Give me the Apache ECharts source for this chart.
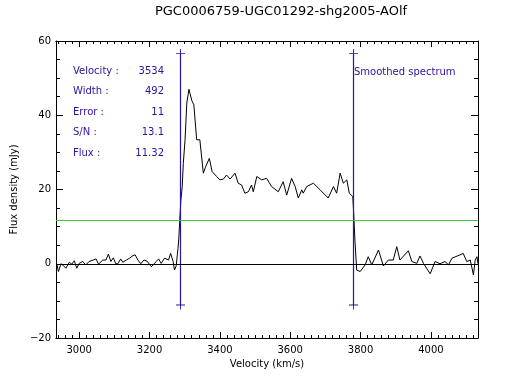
<!DOCTYPE html>
<html>
<head>
<meta charset="utf-8">
<script src="https://cdn.jsdelivr.net/npm/echarts@6/dist/echarts.min.js"></script>
<style>
html,body{margin:0;padding:0;background:#fff;}
#chart{width:509px;height:387px;}
</style>
</head>
<body>
<div id="chart"></div>
<script>
// ---- data ----
var titleText = 'PGC0006759-UGC01292-shg2005-AOlf';
var velocity = [2936,2941,2948,2954,2962,2972,2979,2986,2993,3000,3010,3019,3028,3040,3048,3055,3067,3076,3083,3090,3097,3104,3110,3118,3124,3134,3143,3153,3159,3167,3175,3184,3193,3205,3219,3226,3233,3243,3254,3260,3267,3271,3276,3279,3281,3283,3286,3289,3293,3296,3301,3306,3312,3320,3326,3334,3343,3353,3359,3370,3378,3391,3400,3410,3419,3429,3443,3452,3462,3471,3481,3490,3495,3505,3519,3533,3547,3566,3580,3590,3604,3614,3623,3633,3637,3647,3666,3685,3708,3723,3732,3742,3751,3761,3768,3778,3780,3784,3789,3799,3813,3822,3832,3851,3865,3879,3893,3903,3912,3936,3946,3960,3969,3979,3998,4012,4026,4040,4050,4060,4083,4092,4102,4112,4121,4126,4131,4134];
var flux = [0,-2.1,0,-0.4,-1.2,0.4,-0.1,0.8,-1.2,0.1,0.6,-0.3,0.6,1,1.3,-0.1,1,1,2.6,0.6,1.6,0,0,1.3,0.4,1,1.5,2.2,2.4,1,0,1,0.7,-0.8,0.6,1.3,0.1,1.5,1,2.8,0.6,-1.7,-0.5,2.4,4.2,6.4,11.8,17,20.8,27,33.4,43.3,47,44,42.8,33.4,33.4,24.4,26,28.4,24.8,23.5,22.6,22.8,23.9,22.8,24.4,21.7,21.2,19,19.4,21.2,19.4,23.5,22.6,23,20.8,19.4,22.1,18.5,23,20.8,17.7,19.9,19,20.8,21.7,19.9,17.7,20.8,19,24.4,21.7,22.6,19,18.1,14.5,6.4,-1.7,-2.1,-0.3,1.9,-0.3,3.7,-0.6,1,1,4.6,1,3.5,0.6,0.1,2.1,0.1,-2.7,0.6,0,0.6,-0.3,1.5,2.4,2.8,0.6,1,-3,1,1.9,0];
var xTickValues = [3000,3200,3400,3600,3800,4000];
var xRange = [2934,4134];
var yRange = [-20,60];
var edgeVelocities = [3288,3780];
var edgeFluxRange = [-11.1,56.6];
var noiseLevel = 11.6;
var infoLabels = ['Velocity :','Width :','Error :','S/N :','Flux :'];
var infoValues = ['3534','492','11','13.1','11.32'];
var legendText = 'Smoothed spectrum';

// ---- build ----
var spectrum = velocity.map(function(v,i){return [v,flux[i]];});
var xMinorValues = [];
for (var t = 2940; t <= 4134; t += 20) { if (t % 200 !== 0) xMinorValues.push(t); }

var FONT = 'DejaVu Sans';
var PURPLE = '#3010a0';
var cross = 'path://M4.5,0h1v4.5h4.5v1h-4.5v4.5h-1v-4.5h-4.5v-1h4.5z';
function plain(v){ return String(v).replace('-', '\u2212'); }

function xAxisDef(pos, vals, len, labels) {
  return {
    type:'value', position:pos, min:xRange[0], max:xRange[1],
    axisLine:{show:true, onZero:false, lineStyle:{color:'#000', width:1}},
    axisTick:{show:true, inside:true, length:len, customValues:vals, lineStyle:{color:'#000'}},
    axisLabel:{show:labels, customValues:vals, formatter:plain, color:'#000', fontFamily:FONT, fontSize:10, margin:7},
    splitLine:{show:false}
  };
}
var xAxes = [
  xAxisDef('bottom', xTickValues, 6, true),
  xAxisDef('bottom', xMinorValues, 3, false),
  xAxisDef('top', xTickValues, 6, false),
  xAxisDef('top', xMinorValues, 3, false)
];
xAxes[0].name = 'Velocity (km/s)';
xAxes[0].nameLocation = 'middle';
xAxes[0].nameGap = 21;
xAxes[0].nameTextStyle = {color:'#000', fontFamily:FONT, fontSize:10};

function yAxisDef(pos, labels) {
  return {
    type:'value', position:pos, min:yRange[0], max:yRange[1], interval:20,
    axisLine:{show:true, onZero:false, lineStyle:{color:'#000', width:1}},
    axisTick:{show:true, inside:true, length:7, lineStyle:{color:'#000'}},
    minorTick:{show:true, splitNumber:4, length:4, lineStyle:{color:'#000'}},
    axisLabel:{show:labels, formatter:plain, color:'#000', fontFamily:FONT, fontSize:10, margin:5},
    splitLine:{show:false}, minorSplitLine:{show:false}
  };
}
var yAxes = [yAxisDef('left', true), yAxisDef('right', false)];
yAxes[0].name = 'Flux density (mJy)';
yAxes[0].nameLocation = 'middle';
yAxes[0].nameGap = 33;
yAxes[0].nameTextStyle = {color:'#000', fontFamily:FONT, fontSize:10};

var series = [
  {
    type:'line', data:spectrum, xAxisIndex:0, yAxisIndex:0, showSymbol:false,
    lineStyle:{color:'#000', width:1}, animation:false, z:3,
    markLine:{
      silent:true, symbol:'none', animation:false,
      label:{show:false},
      data:[
        {yAxis:0, lineStyle:{color:'#000', width:1, type:'solid'}},
        {yAxis:noiseLevel, lineStyle:{color:'#33cc33', width:1, type:'solid'}}
      ]
    }
  }
];
edgeVelocities.forEach(function(v){
  series.push({
    type:'line', xAxisIndex:0, yAxisIndex:0, animation:false, z:4,
    color:PURPLE,
    data:[[v,edgeFluxRange[0]],[v,edgeFluxRange[1]]],
    symbol:cross, symbolSize:9, showSymbol:true,
    itemStyle:{color:PURPLE}, lineStyle:{color:PURPLE, width:1.2}
  });
});

var graphics = [];
infoLabels.forEach(function(l,i){
  graphics.push({type:'text', left:73, top:66 + i*20.6,
    style:{text:l, fill:PURPLE, font:'10px "DejaVu Sans"'}});
  graphics.push({type:'text', right:509-164, top:66 + i*20.6,
    style:{text:infoValues[i], fill:PURPLE, font:'10px "DejaVu Sans"', align:'right'}});
});
graphics.push({type:'text', left:354, top:67,
  style:{text:legendText, fill:PURPLE, font:'10px "DejaVu Sans"'}});

var chart = echarts.init(document.getElementById('chart'), null, {renderer:'canvas'});
chart.setOption({
  animation:false,
  backgroundColor:'#fff',
  title:{text:titleText, left:276, top:0, textAlign:'center',
    textStyle:{color:'#000', fontFamily:FONT, fontSize:13, fontWeight:'normal'}},
  grid:{left:56, right:31, top:41, bottom:49, containLabel:false},
  xAxis:xAxes,
  yAxis:yAxes,
  series:series,
  graphic:graphics
});
</script>
</body>
</html>
